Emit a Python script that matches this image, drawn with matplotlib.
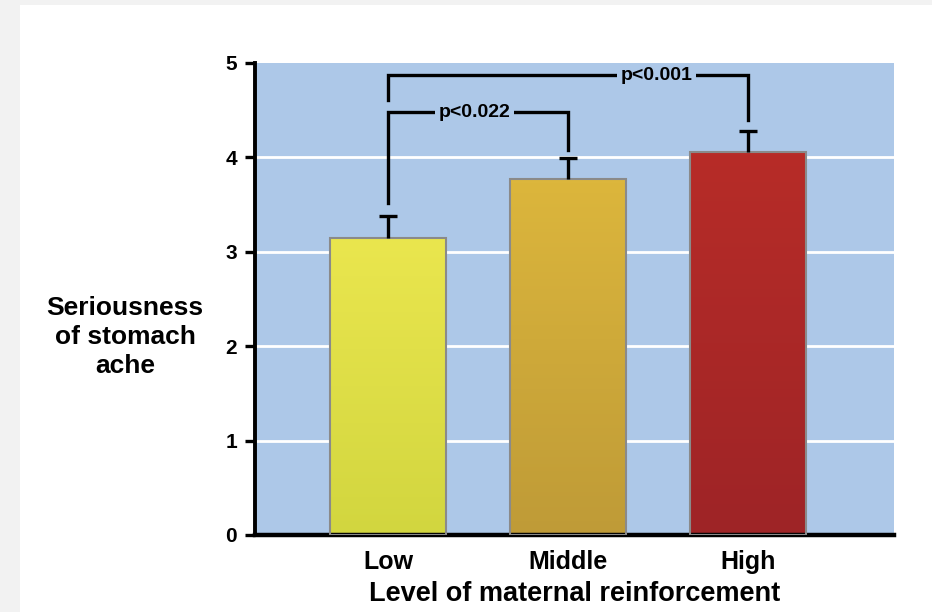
import matplotlib
matplotlib.use("Agg")
import matplotlib.pyplot as plt
import numpy as np
from matplotlib.patches import Rectangle

plt.rcParams['font.family'] = ['Liberation Sans', 'DejaVu Sans']
plt.rcParams['font.weight'] = 'bold'

# data
categories = ["Low", "Middle", "High"]
means = [3.15, 3.77, 4.06]
errors = [0.23, 0.22, 0.22]
yticks = [0, 1, 2, 3, 4, 5]
# (left bar, right bar, bracket height, left drop end, right drop end, label)
brackets = [
    (0, 1, 4.48, 3.52, 4.08, "p<0.022"),
    (0, 2, 4.87, 4.61, 4.40, "p<0.001"),
]
top_colors = ["#eae64e", "#dcb63c", "#b72c28"]
bottom_colors = ["#d2d63f", "#bf9b37", "#9e2426"]

bg = "#adc8e8"

fig = plt.figure(figsize=(9.32, 6.12), dpi=100)
fig.patch.set_facecolor("#f2f2f2")
fig.patches.append(Rectangle((20 / 932, 0), 1, 1 - 5 / 612, transform=fig.transFigure,
                             facecolor="white", edgecolor="none", zorder=-5))

ax = fig.add_axes([255 / 932, 1 - 535 / 612, (894 - 255) / 932, (535 - 63) / 612])
ax.set_zorder(2)
ax.set_facecolor(bg)
x = np.arange(len(categories))
width = 0.645

ax.set_xlim(-0.74, 2.81)
ax.set_ylim(0, 5)

for yv in yticks[1:-1]:
    ax.axhline(yv, color="white", lw=2, zorder=1)

bars = ax.bar(x, means, width, color="none", edgecolor="#8a8a8a", linewidth=1.5, zorder=3)
for b, c_top, c_bot in zip(bars, top_colors, bottom_colors):
    x0, y0 = b.get_x(), b.get_y()
    w, h = b.get_width(), b.get_height()
    t = np.linspace(0, 1, 100).reshape(-1, 1)
    ct = np.array(matplotlib.colors.to_rgb(c_top))
    cb = np.array(matplotlib.colors.to_rgb(c_bot))
    grad = (cb * (1 - t[:, :, None]) + ct * t[:, :, None])
    im = ax.imshow(grad, extent=(x0, x0 + w, y0, y0 + h), origin="lower",
                   aspect="auto", zorder=2)
    im.set_clip_path(b)

# upper-only error bars, hide the lower caps
_, caps, _ = ax.errorbar(x, means, yerr=[np.zeros(3), errors], fmt="none", ecolor="black",
                         elinewidth=2.4, capsize=6.5, capthick=2.4, zorder=4)
caps[0].set_visible(False)

for i, j, h, dl, dr, label in brackets:
    ax.plot([i, i, j, j], [dl, h, h, dr], color="black", lw=2.4, zorder=4,
            solid_joinstyle="miter")
    xm = i + (j - i) * (0.48 if j == 1 else 0.745)
    ax.text(xm, h, label, ha="center", va="center", fontsize=14, fontweight="bold",
            bbox=dict(facecolor=bg, edgecolor="none", pad=2.5), zorder=5)

ax.set_xticks(x)
ax.set_xticklabels(categories, fontsize=18, fontweight="bold")
ax.set_yticks(yticks)
ax.set_yticklabels([str(v) for v in yticks], fontsize=15, fontweight="bold")
ax.tick_params(axis="x", length=0, pad=11)
ax.tick_params(axis="y", length=7, width=2.4, pad=6)
for s in ["top", "right"]:
    ax.spines[s].set_visible(False)
ax.spines["left"].set_linewidth(2.8)
ax.spines["bottom"].set_linewidth(3.2)

ax.set_xlabel("Level of maternal reinforcement", fontsize=19.5, fontweight="bold", labelpad=5)
fig.text(125 / 932, 1 - 337 / 612, "Seriousness\nof stomach\nache", ha="center", va="center",
         fontsize=19, fontweight="bold", linespacing=1.25)

fig.savefig("out.png", dpi=100, facecolor=fig.get_facecolor())
